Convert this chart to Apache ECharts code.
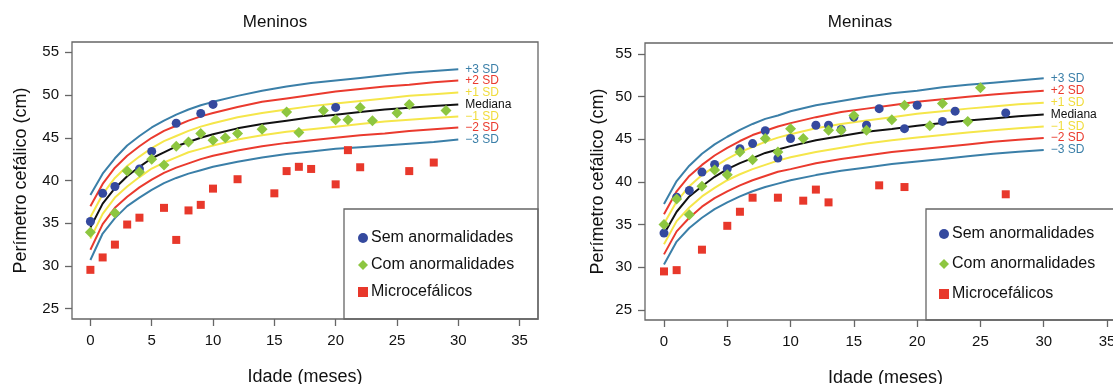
<!DOCTYPE html>
<html>
<head>
<meta charset="utf-8">
<script src="https://cdn.jsdelivr.net/npm/echarts@6/dist/echarts.min.js"></script>
<style>
  html, body { margin: 0; padding: 0; background: #fff; }
  #chart { width: 1113px; height: 384px; }
</style>
</head>
<body>
<div id="chart"></div>
<script>
// reference curves (age in months)
const ages = [0, 1, 2, 3, 4, 5, 6, 7, 8, 9, 10, 12, 14, 16, 18, 20, 22, 24, 26, 28, 30];

const boysM3 = [30.7, 33.8, 35.6, 37.0, 38.0, 38.9, 39.7, 40.3, 40.8, 41.2, 41.6, 42.2, 42.7, 43.1, 43.4, 43.7, 43.9, 44.1, 44.3, 44.5, 44.8];
const boysM2 = [31.9, 34.9, 36.8, 38.1, 39.2, 40.1, 40.9, 41.5, 42.0, 42.5, 42.9, 43.5, 44.0, 44.4, 44.7, 45.0, 45.3, 45.5, 45.8, 46.0, 46.2];
const boysM1 = [33.2, 36.1, 38.0, 39.3, 40.4, 41.4, 42.1, 42.7, 43.3, 43.7, 44.1, 44.8, 45.3, 45.7, 46.0, 46.3, 46.6, 46.9, 47.1, 47.3, 47.5];
const boysMed = [34.5, 37.3, 39.1, 40.5, 41.6, 42.6, 43.3, 44.0, 44.5, 45.0, 45.4, 46.1, 46.6, 47.0, 47.4, 47.7, 48.0, 48.3, 48.5, 48.7, 48.9];
const boysP1 = [35.7, 38.4, 40.3, 41.7, 42.8, 43.8, 44.6, 45.2, 45.8, 46.3, 46.7, 47.4, 47.9, 48.3, 48.7, 49.0, 49.3, 49.6, 49.9, 50.1, 50.3];
const boysP2 = [37.0, 39.6, 41.5, 42.9, 44.0, 45.0, 45.8, 46.4, 47.0, 47.5, 47.9, 48.6, 49.2, 49.6, 50.0, 50.4, 50.7, 51.0, 51.2, 51.5, 51.7];
const boysP3 = [38.3, 40.8, 42.6, 44.1, 45.2, 46.2, 47.0, 47.7, 48.3, 48.8, 49.2, 49.9, 50.5, 51.0, 51.4, 51.7, 52.0, 52.3, 52.6, 52.8, 53.0];

const girlsM3 = [30.3, 33.0, 34.6, 35.8, 36.8, 37.6, 38.3, 38.9, 39.4, 39.8, 40.2, 40.8, 41.3, 41.7, 42.1, 42.4, 42.7, 43.0, 43.3, 43.55, 43.75];
const girlsM2 = [31.5, 34.2, 35.8, 37.1, 38.1, 38.9, 39.6, 40.2, 40.7, 41.2, 41.5, 42.2, 42.7, 43.1, 43.5, 43.8, 44.1, 44.4, 44.7, 44.95, 45.15];
const girlsM1 = [32.7, 35.4, 37.0, 38.3, 39.3, 40.2, 40.9, 41.5, 42.0, 42.5, 42.9, 43.5, 44.0, 44.5, 44.9, 45.2, 45.5, 45.8, 46.05, 46.3, 46.5];
const girlsMed = [33.9, 36.5, 38.3, 39.5, 40.6, 41.5, 42.2, 42.8, 43.4, 43.8, 44.2, 44.9, 45.4, 45.9, 46.2, 46.6, 46.9, 47.2, 47.45, 47.7, 47.9];
const girlsP1 = [35.1, 37.7, 39.5, 40.8, 41.8, 42.7, 43.5, 44.1, 44.7, 45.2, 45.6, 46.3, 46.8, 47.2, 47.6, 48.0, 48.3, 48.6, 48.85, 49.1, 49.3];
const girlsP2 = [36.2, 38.9, 40.7, 42.0, 43.1, 44.0, 44.8, 45.5, 46.0, 46.5, 46.9, 47.6, 48.2, 48.6, 49.0, 49.4, 49.7, 50.0, 50.25, 50.5, 50.7];
const girlsP3 = [37.4, 40.1, 41.9, 43.3, 44.4, 45.3, 46.1, 46.8, 47.4, 47.8, 48.3, 49.0, 49.5, 50.0, 50.4, 50.7, 51.1, 51.4, 51.65, 51.9, 52.15];

// observed children: [age, head circumference]
const boysNormal = [[0, 35.2], [1, 38.5], [2, 39.3], [4, 41.35], [5, 43.4], [7, 46.7], [9, 47.85], [10, 48.9], [20, 48.55]];
const boysAbnormal = [[0, 33.95], [2, 36.2], [3, 41.1], [4, 41.0], [5, 42.5], [6, 41.8], [7, 44.0], [8, 44.5], [9, 45.5], [10, 44.7],
  [11, 45.0], [12, 45.5], [14, 46.0], [16, 48.0], [17, 45.6], [19, 48.2], [20, 47.1], [21, 47.1], [22, 48.55], [23, 47.0],
  [25, 47.9], [26, 48.9], [29, 48.2]];
const boysMicro = [[0, 29.55], [1, 31.0], [2, 32.5], [3, 34.85], [4, 35.65], [6, 36.8], [7, 33.05], [8, 36.5], [9, 37.15],
  [10, 39.05], [12, 40.15], [15, 38.5], [16, 41.1], [17, 41.6], [18, 41.35], [20, 39.55], [21, 43.55], [22, 41.55],
  [26, 41.1], [28, 42.1]];

const girlsNormal = [[0, 34.0], [1, 38.2], [2, 39.0], [3, 41.15], [4, 42.05], [5, 41.55], [6, 43.9], [7, 44.5], [8, 46.0],
  [9, 42.8], [10, 45.1], [12, 46.65], [13, 46.65], [14, 46.15], [15, 47.6], [16, 46.65], [17, 48.6], [19, 46.25],
  [20, 49.0], [22, 47.1], [23, 48.3], [27, 48.1]];
const girlsAbnormal = [[0, 35.0], [1, 38.0], [2, 36.15], [3, 39.5], [4, 41.4], [5, 40.85], [6, 43.5], [7, 42.6], [8, 45.1],
  [9, 43.5], [10, 46.25], [11, 45.1], [13, 46.05], [14, 46.05], [15, 47.8], [16, 46.05], [18, 47.3], [19, 49.0],
  [21, 46.6], [22, 49.2], [24, 47.1], [25, 51.05]];
const girlsMicro = [[0, 29.5], [1, 29.65], [3, 32.05], [5, 34.85], [6, 36.5], [7, 38.15], [9, 38.15], [11, 37.8],
  [12, 39.1], [13, 37.6], [17, 39.6], [19, 39.4], [27, 38.55]];

const xTicks = [0, 5, 10, 15, 20, 25, 30, 35];
const yTicks = [25, 30, 35, 40, 45, 50, 55];

const C_BLUE_LINE = '#3b7fa8';
const C_RED_LINE = '#ea3a2e';
const C_YELLOW = '#f5e64a';
const C_DOT_BLUE = '#34499e';
const C_DOT_GREEN = '#8dc640';
const C_DOT_RED = '#e8382b';
const FRAME = '#666';
const FONT = '"Liberation Sans", Arial, sans-serif';

const chart = echarts.init(document.getElementById('chart'));

function xAxis(gridIndex) {
  return {
    gridIndex, type: 'value', min: -1.5, max: 36.5,
    name: 'Idade (meses)', nameLocation: 'middle', nameGap: 49,
    nameTextStyle: { fontSize: 18, color: '#111', fontFamily: FONT },
    axisLine: { show: false, onZero: false },
    axisTick: { show: true, length: 7, customValues: xTicks, lineStyle: { color: FRAME, width: 1.3 } },
    axisLabel: { customValues: xTicks, fontSize: 15, color: '#111', fontFamily: FONT, margin: 14 },
    splitLine: { show: false }
  };
}

function yAxis(gridIndex, min, max, gap) {
  return {
    gridIndex, type: 'value', min, max,
    name: 'Perímetro cefálico (cm)', nameLocation: 'middle', nameGap: gap,
    nameTextStyle: { fontSize: 18, color: '#111', fontFamily: FONT },
    axisLine: { show: false, onZero: false },
    axisTick: { show: true, length: 7, customValues: yTicks, lineStyle: { color: FRAME, width: 1.3 } },
    axisLabel: { customValues: yTicks, fontSize: 15, color: '#111', fontFamily: FONT, margin: 13 },
    splitLine: { show: false }
  };
}

function curve(idx, name, values, color, labelColor) {
  return {
    type: 'line', name, xAxisIndex: idx, yAxisIndex: idx,
    data: ages.map((a, i) => [a, values[i]]),
    symbol: 'none', smooth: false, z: 2,
    lineStyle: { color, width: 2 },
    itemStyle: { color },
    endLabel: { show: true, formatter: name, color: labelColor || color, fontSize: 12, fontFamily: FONT, distance: 7 },
    emphasis: { disabled: true }, silent: true
  };
}

function dots(idx, name, data, symbol, size, color) {
  return {
    type: 'scatter', name, xAxisIndex: idx, yAxisIndex: idx,
    data, symbol, symbolSize: size, z: 5,
    itemStyle: { color, opacity: 1 }
  };
}

function curveSet(idx, m3, m2, m1, med, p1, p2, p3) {
  return [
    curve(idx, '+3 SD', p3, C_BLUE_LINE),
    curve(idx, '+2 SD', p2, C_RED_LINE),
    curve(idx, '+1 SD', p1, C_YELLOW, '#f0dc3c'),
    curve(idx, 'Mediana', med, '#111'),
    curve(idx, '−1 SD', m1, C_YELLOW, '#f0dc3c'),
    curve(idx, '−2 SD', m2, C_RED_LINE),
    curve(idx, '−3 SD', m3, C_BLUE_LINE)
  ];
}

function legend(left, top, gap) {
  return {
    orient: 'vertical', left, top, itemGap: gap, itemWidth: 10, itemHeight: 10,
    selectedMode: false,
    textStyle: { fontSize: 16, color: '#111', fontFamily: FONT, padding: [0, 0, 0, -2] },
    data: [
      { name: 'Sem anormalidades', icon: 'circle' },
      { name: 'Com anormalidades', icon: 'diamond' },
      { name: 'Microcefálicos', icon: 'rect' }
    ]
  };
}

chart.setOption({
  animation: false,
  backgroundColor: '#fff',
  title: [
    { text: 'Meninos', left: 270, top: 9, textAlign: 'center',
      textStyle: { fontSize: 17, fontWeight: 'normal', color: '#111', fontFamily: FONT } },
    { text: 'Meninas', left: 855, top: 9, textAlign: 'center',
      textStyle: { fontSize: 17, fontWeight: 'normal', color: '#111', fontFamily: FONT } }
  ],
  grid: [
    { left: 72, top: 42, width: 466, height: 277, outerBoundsMode: 'none', show: true,
      borderColor: FRAME, borderWidth: 1.3, backgroundColor: 'transparent' },
    { left: 645, top: 43, width: 481, height: 277, outerBoundsMode: 'none', show: true,
      borderColor: FRAME, borderWidth: 1.3, backgroundColor: 'transparent' }
  ],
  xAxis: [xAxis(0), xAxis(1)],
  yAxis: [yAxis(0, 23.8, 56.2, 42), yAxis(1, 23.8, 56.3, 38)],
  legend: [legend(353, 225, 11), legend(934, 221, 14)],
  graphic: [
    { type: 'rect', shape: { x: 344, y: 209, width: 194, height: 110 }, z: 10,
      style: { fill: 'transparent', stroke: FRAME, lineWidth: 1.3 }, silent: true },
    { type: 'rect', shape: { x: 926, y: 209, width: 200, height: 111 }, z: 10,
      style: { fill: 'transparent', stroke: FRAME, lineWidth: 1.3 }, silent: true }
  ],
  series: [
    ...curveSet(0, boysM3, boysM2, boysM1, boysMed, boysP1, boysP2, boysP3),
    dots(0, 'Sem anormalidades', boysNormal, 'circle', 9, C_DOT_BLUE),
    dots(0, 'Com anormalidades', boysAbnormal, 'diamond', 11, C_DOT_GREEN),
    dots(0, 'Microcefálicos', boysMicro, 'rect', 8, C_DOT_RED),
    ...curveSet(1, girlsM3, girlsM2, girlsM1, girlsMed, girlsP1, girlsP2, girlsP3),
    dots(1, 'Sem anormalidades', girlsNormal, 'circle', 9, C_DOT_BLUE),
    dots(1, 'Com anormalidades', girlsAbnormal, 'diamond', 11, C_DOT_GREEN),
    dots(1, 'Microcefálicos', girlsMicro, 'rect', 8, C_DOT_RED)
  ]
});
</script>
</body>
</html>
